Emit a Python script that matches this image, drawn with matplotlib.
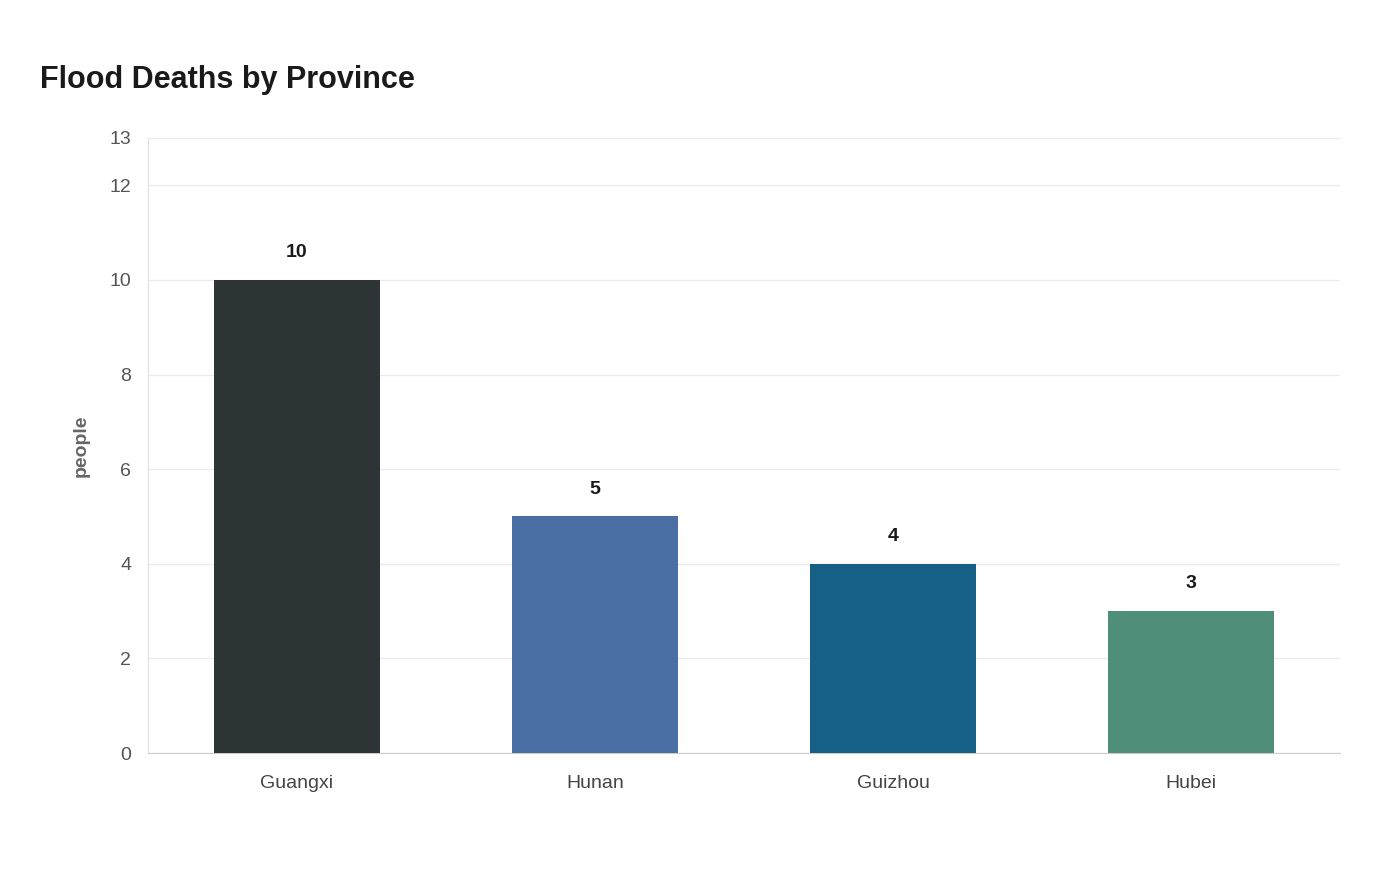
import matplotlib
matplotlib.use("Agg")
import matplotlib.pyplot as plt

provinces = ["Guangxi", "Hunan", "Guizhou", "Hubei"]
deaths = [10, 5, 4, 3]
colors = ["#2d3436", "#4a6fa5", "#166088", "#4f8f7a"]
yticks = [0, 2, 4, 6, 8, 10, 12, 13]

plt.rcParams['font.family'] = ['Liberation Sans', 'DejaVu Sans']
fig = plt.figure(figsize=(14, 8.8), dpi=100)
ax = fig.add_axes([0.1057, 0.1443, 0.8514, 0.6989])
x = range(len(provinces))
ax.bar(x, deaths, width=0.56, color=colors, zorder=3)
for xi, v in zip(x, deaths):
    ax.text(xi, v + 0.4, str(v), ha='center', va='bottom', fontsize=14, fontweight='bold', color='#1a1a1a')
ax.set_xlim(-0.5, 3.5)
ax.set_ylim(0, 13)
ax.set_yticks(yticks)
ax.set_xticks(list(x))
ax.set_xticklabels(provinces)
ax.grid(axis='y', color='#ebebeb', linewidth=1, zorder=0)
for s in ['top', 'right']:
    ax.spines[s].set_visible(False)
ax.spines['left'].set_color('#e0e0e0')
ax.spines['bottom'].set_color('#cccccc')
ax.tick_params(axis='both', length=0, labelsize=14, colors='#555555', pad=12)
ax.tick_params(axis='x', colors='#444444', pad=16)
ax.set_ylabel('people', fontsize=14, fontweight='bold', color='#666666', labelpad=14)
fig.text(40/1400, 1-80/880, 'Flood Deaths by Province', fontsize=22, fontweight='bold', color='#1a1a1a', va='center')
fig.savefig('out.png')
